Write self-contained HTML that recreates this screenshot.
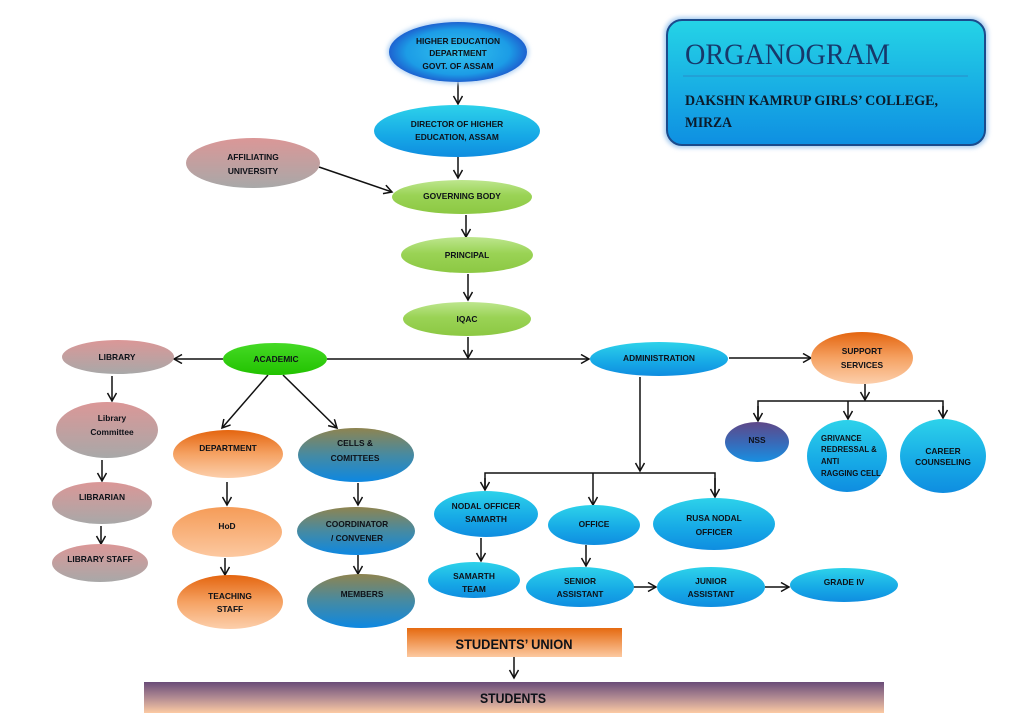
<!DOCTYPE html>
<html>
<head>
<meta charset="utf-8">
<style>
html,body{margin:0;padding:0;background:#fff;}
svg{display:block;}
text{font-family:"Liberation Sans",sans-serif;font-weight:bold;fill:#0d1118;}
.n{font-size:8.4px;text-anchor:middle;}
</style>
</head>
<body>
<svg width="1024" height="724" viewBox="0 0 1024 724" xmlns="http://www.w3.org/2000/svg">
<defs>
  <linearGradient id="gBlue" x1="0" y1="0" x2="0" y2="1">
    <stop offset="0" stop-color="#2dd2ea"/>
    <stop offset="0.6" stop-color="#16a8e6"/>
    <stop offset="1" stop-color="#0f8de0"/>
  </linearGradient>
  <radialGradient id="gHE" cx="0.5" cy="0.5" r="0.5">
    <stop offset="0" stop-color="#33c4ee"/>
    <stop offset="0.75" stop-color="#1c9ce6"/>
    <stop offset="1" stop-color="#1d62d0"/>
  </radialGradient>
  <linearGradient id="gLime" x1="0" y1="0" x2="0" y2="1">
    <stop offset="0" stop-color="#bde68e"/>
    <stop offset="0.45" stop-color="#9ad355"/>
    <stop offset="1" stop-color="#8cc843"/>
  </linearGradient>
  <linearGradient id="gGreen" x1="0" y1="0" x2="0" y2="1">
    <stop offset="0" stop-color="#45da25"/>
    <stop offset="1" stop-color="#22c200"/>
  </linearGradient>
  <linearGradient id="gPink" x1="0" y1="0" x2="0" y2="1">
    <stop offset="0" stop-color="#db9797"/>
    <stop offset="1" stop-color="#a8a8a8"/>
  </linearGradient>
  <linearGradient id="gOrange" x1="0" y1="0" x2="0" y2="1">
    <stop offset="0" stop-color="#e4650f"/>
    <stop offset="0.5" stop-color="#f5a263"/>
    <stop offset="1" stop-color="#fccfac"/>
  </linearGradient>
  <linearGradient id="gOrangeL" x1="0" y1="0" x2="0" y2="1">
    <stop offset="0" stop-color="#f59c58"/>
    <stop offset="1" stop-color="#fcc8a0"/>
  </linearGradient>
  <linearGradient id="gOlive" x1="0" y1="0" x2="0" y2="1">
    <stop offset="0" stop-color="#8e8450"/>
    <stop offset="0.5" stop-color="#468aa2"/>
    <stop offset="1" stop-color="#0d88e2"/>
  </linearGradient>
  <linearGradient id="gNSS" x1="0" y1="0" x2="0" y2="1">
    <stop offset="0" stop-color="#5f4888"/>
    <stop offset="0.5" stop-color="#3a68b6"/>
    <stop offset="1" stop-color="#1890e2"/>
  </linearGradient>
  <linearGradient id="gSU" x1="0" y1="0" x2="0" y2="1">
    <stop offset="0" stop-color="#e56a10"/>
    <stop offset="1" stop-color="#fcc9a0"/>
  </linearGradient>
  <linearGradient id="gStu" x1="0" y1="0" x2="0" y2="1">
    <stop offset="0" stop-color="#6a4c78"/>
    <stop offset="0.5" stop-color="#b08a92"/>
    <stop offset="1" stop-color="#fccaa3"/>
  </linearGradient>
  <linearGradient id="gTitle" x1="0" y1="0" x2="0" y2="1">
    <stop offset="0" stop-color="#25d4e6"/>
    <stop offset="1" stop-color="#0e8fe2"/>
  </linearGradient>
  <marker id="ar" markerWidth="12" markerHeight="12" refX="9" refY="5" orient="auto" markerUnits="userSpaceOnUse">
    <path d="M1,0.5 L9,5 L1,9.5" fill="none" stroke="#111" stroke-width="1.5"/>
  </marker>
  <filter id="glow" x="-20%" y="-20%" width="140%" height="140%">
    <feGaussianBlur stdDeviation="2"/>
  </filter>
</defs>

<!-- Title box -->
<rect x="664" y="17" width="324" height="131" rx="17" fill="#a9cdf0" filter="url(#glow)"/>
<rect x="667" y="20" width="318" height="125" rx="15" fill="url(#gTitle)" stroke="#1b4b8c" stroke-width="2"/>
<line x1="683" y1="76" x2="968" y2="76" stroke="#2a8cc8" stroke-width="1"/>
<text x="685" y="64" style="font-family:'Liberation Serif',serif;font-weight:normal;font-size:30px;fill:#17386a" textLength="205" lengthAdjust="spacingAndGlyphs">ORGANOGRAM</text>
<text x="685" y="105" style="font-family:'Liberation Serif',serif;font-size:15px;fill:#0c1a2a" textLength="253" lengthAdjust="spacingAndGlyphs">DAKSHN KAMRUP GIRLS’ COLLEGE,</text>
<text x="685" y="127" style="font-family:'Liberation Serif',serif;font-size:15px;fill:#0c1a2a" textLength="47" lengthAdjust="spacingAndGlyphs">MIRZA</text>

<!-- Connectors -->
<g stroke="#111" stroke-width="1.5" fill="none">
  <line x1="458" y1="82" x2="458" y2="104" marker-end="url(#ar)"/>
  <line x1="458" y1="157" x2="458" y2="178" marker-end="url(#ar)"/>
  <line x1="319" y1="167" x2="392" y2="192" marker-end="url(#ar)"/>
  <line x1="466" y1="215" x2="466" y2="237" marker-end="url(#ar)"/>
  <line x1="468" y1="274" x2="468" y2="300" marker-end="url(#ar)"/>
  <line x1="468" y1="337" x2="468" y2="358" marker-end="url(#ar)"/>
  <line x1="327" y1="359" x2="589" y2="359" marker-end="url(#ar)"/>
  <line x1="223" y1="359" x2="174" y2="359" marker-end="url(#ar)"/>
  <line x1="729" y1="358" x2="811" y2="358" marker-end="url(#ar)"/>
  <line x1="112" y1="376" x2="112" y2="401" marker-end="url(#ar)"/>
  <line x1="102" y1="460" x2="102" y2="481" marker-end="url(#ar)"/>
  <line x1="101" y1="526" x2="101" y2="544" marker-end="url(#ar)"/>
  <line x1="268" y1="375" x2="222" y2="428" marker-end="url(#ar)"/>
  <line x1="283" y1="375" x2="337" y2="428" marker-end="url(#ar)"/>
  <line x1="227" y1="482" x2="227" y2="505" marker-end="url(#ar)"/>
  <line x1="225" y1="558" x2="225" y2="575" marker-end="url(#ar)"/>
  <line x1="358" y1="483" x2="358" y2="505" marker-end="url(#ar)"/>
  <line x1="358" y1="555" x2="358" y2="574" marker-end="url(#ar)"/>
  <line x1="640" y1="377" x2="640" y2="471" marker-end="url(#ar)"/>
  <polyline points="485,490 485,473 715,473 715,497"/>
  <line x1="485" y1="478" x2="485" y2="490" marker-end="url(#ar)"/>
  <line x1="715" y1="478" x2="715" y2="497" marker-end="url(#ar)"/>
  <line x1="593" y1="473" x2="593" y2="505" marker-end="url(#ar)"/>
  <line x1="481" y1="538" x2="481" y2="561" marker-end="url(#ar)"/>
  <line x1="586" y1="545" x2="586" y2="566" marker-end="url(#ar)"/>
  <line x1="633" y1="587" x2="656" y2="587" marker-end="url(#ar)"/>
  <line x1="765" y1="587" x2="789" y2="587" marker-end="url(#ar)"/>
  <line x1="865" y1="384" x2="865" y2="400" marker-end="url(#ar)"/>
  <polyline points="758,421 758,401 943,401 943,418"/>
  <line x1="758" y1="406" x2="758" y2="421" marker-end="url(#ar)"/>
  <line x1="943" y1="406" x2="943" y2="418" marker-end="url(#ar)"/>
  <line x1="848" y1="401" x2="848" y2="419" marker-end="url(#ar)"/>
  <line x1="514" y1="657" x2="514" y2="678" marker-end="url(#ar)"/>
</g>

<!-- Top chain -->
<ellipse cx="458" cy="52" rx="71" ry="32" fill="#b8d6f4" filter="url(#glow)"/>
<ellipse cx="458" cy="52" rx="69" ry="30" fill="url(#gHE)"/>
<text class="n" x="458" y="44">HIGHER EDUCATION</text>
<text class="n" x="458" y="56">DEPARTMENT</text>
<text class="n" x="458" y="69">GOVT.  OF ASSAM</text>

<ellipse cx="457" cy="131" rx="83" ry="26" fill="url(#gBlue)"/>
<text class="n" x="457" y="127">DIRECTOR OF HIGHER</text>
<text class="n" x="457" y="140">EDUCATION, ASSAM</text>

<ellipse cx="253" cy="163" rx="67" ry="25" fill="url(#gPink)"/>
<text class="n" x="253" y="160">AFFILIATING</text>
<text class="n" x="253" y="174">UNIVERSITY</text>

<ellipse cx="462" cy="197" rx="70" ry="17" fill="url(#gLime)"/>
<text class="n" x="462" y="199">GOVERNING BODY</text>

<ellipse cx="467" cy="255" rx="66" ry="18" fill="url(#gLime)"/>
<text class="n" x="467" y="258">PRINCIPAL</text>

<ellipse cx="467" cy="319" rx="64" ry="17" fill="url(#gLime)"/>
<text class="n" x="467" y="322">IQAC</text>

<!-- Level row -->
<ellipse cx="275" cy="359" rx="52" ry="16" fill="url(#gGreen)"/>
<text class="n" x="276" y="362">ACADEMIC</text>

<ellipse cx="659" cy="359" rx="69" ry="17" fill="url(#gBlue)"/>
<text class="n" x="659" y="361">ADMINISTRATION</text>

<ellipse cx="862" cy="358" rx="51" ry="26" fill="url(#gOrange)"/>
<text class="n" x="862" y="354">SUPPORT</text>
<text class="n" x="862" y="368">SERVICES</text>

<!-- Library branch -->
<ellipse cx="118" cy="357" rx="56" ry="17" fill="url(#gPink)"/>
<text class="n" x="117" y="360">LIBRARY</text>

<ellipse cx="107" cy="430" rx="51" ry="28" fill="url(#gPink)"/>
<text class="n" x="112" y="421">Library</text>
<text class="n" x="112" y="435">Committee</text>

<ellipse cx="102" cy="503" rx="50" ry="21" fill="url(#gPink)"/>
<text class="n" x="102" y="500">LIBRARIAN</text>

<ellipse cx="100" cy="563" rx="48" ry="19" fill="url(#gPink)"/>
<text class="n" x="100" y="562">LIBRARY STAFF</text>

<!-- Department branch -->
<ellipse cx="228" cy="454" rx="55" ry="24" fill="url(#gOrange)"/>
<text class="n" x="228" y="451">DEPARTMENT</text>

<ellipse cx="227" cy="532" rx="55" ry="25" fill="url(#gOrangeL)"/>
<text class="n" x="227" y="529">HoD</text>

<ellipse cx="230" cy="602" rx="53" ry="27" fill="url(#gOrange)"/>
<text class="n" x="230" y="599">TEACHING</text>
<text class="n" x="230" y="612">STAFF</text>

<!-- Cells branch -->
<ellipse cx="356" cy="455" rx="58" ry="27" fill="url(#gOlive)"/>
<text class="n" x="355" y="446">CELLS &amp;</text>
<text class="n" x="355" y="461">COMITTEES</text>

<ellipse cx="356" cy="531" rx="59" ry="24" fill="url(#gOlive)"/>
<text class="n" x="357" y="527">COORDINATOR</text>
<text class="n" x="357" y="541">/ CONVENER</text>

<ellipse cx="361" cy="601" rx="54" ry="27" fill="url(#gOlive)"/>
<text class="n" x="362" y="597">MEMBERS</text>

<!-- Administration branch -->
<ellipse cx="486" cy="514" rx="52" ry="23" fill="url(#gBlue)"/>
<text class="n" x="486" y="509">NODAL OFFICER</text>
<text class="n" x="486" y="522">SAMARTH</text>

<ellipse cx="594" cy="525" rx="46" ry="20" fill="url(#gBlue)"/>
<text class="n" x="594" y="527">OFFICE</text>

<ellipse cx="714" cy="524" rx="61" ry="26" fill="url(#gBlue)"/>
<text class="n" x="714" y="521">RUSA NODAL</text>
<text class="n" x="714" y="535">OFFICER</text>

<ellipse cx="474" cy="580" rx="46" ry="18" fill="url(#gBlue)"/>
<text class="n" x="474" y="579">SAMARTH</text>
<text class="n" x="474" y="592">TEAM</text>

<ellipse cx="580" cy="587" rx="54" ry="20" fill="url(#gBlue)"/>
<text class="n" x="580" y="584">SENIOR</text>
<text class="n" x="580" y="597">ASSISTANT</text>

<ellipse cx="711" cy="587" rx="54" ry="20" fill="url(#gBlue)"/>
<text class="n" x="711" y="584">JUNIOR</text>
<text class="n" x="711" y="597">ASSISTANT</text>

<ellipse cx="844" cy="585" rx="54" ry="17" fill="url(#gBlue)"/>
<text class="n" x="844" y="585">GRADE IV</text>

<!-- Support branch -->
<ellipse cx="757" cy="442" rx="32" ry="20" fill="url(#gNSS)"/>
<text class="n" x="757" y="443">NSS</text>

<ellipse cx="847" cy="456" rx="40" ry="36" fill="url(#gBlue)"/>
<text x="821" y="441" style="font-size:7.8px">GRIVANCE</text>
<text x="821" y="452" style="font-size:7.8px">REDRESSAL  &amp;</text>
<text x="821" y="464" style="font-size:7.8px">ANTI</text>
<text x="821" y="476" style="font-size:7.8px">RAGGING CELL</text>

<ellipse cx="943" cy="456" rx="43" ry="37" fill="url(#gBlue)"/>
<text class="n" x="943" y="454">CAREER</text>
<text class="n" x="943" y="465">COUNSELING</text>

<!-- Students -->
<rect x="407" y="628" width="215" height="29" fill="url(#gSU)"/>
<text x="514" y="649" style="font-size:14px;text-anchor:middle" textLength="117" lengthAdjust="spacingAndGlyphs">STUDENTS’ UNION</text>

<rect x="144" y="682" width="740" height="31" fill="url(#gStu)"/>
<text x="513" y="703" style="font-size:14px;text-anchor:middle" textLength="66" lengthAdjust="spacingAndGlyphs">STUDENTS</text>
</svg>
</body>
</html>
